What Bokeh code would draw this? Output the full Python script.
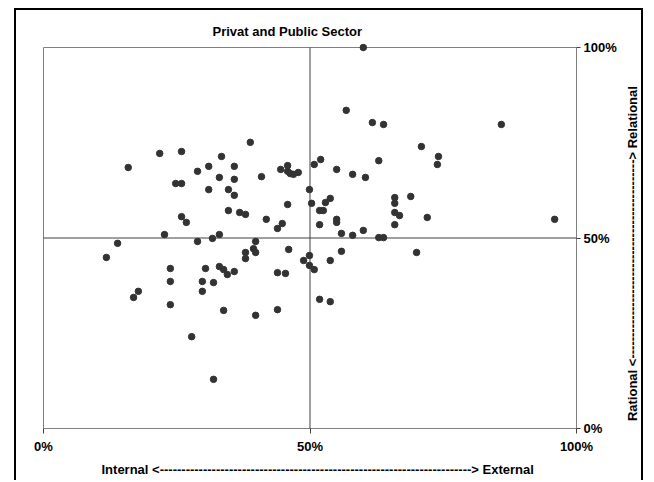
import math
from bokeh.plotting import figure
from bokeh.layouts import row
from bokeh.models import Range1d, FixedTicker, PrintfTickFormatter, ColumnDataSource, Title, Label
from bokeh.embed import file_html
from bokeh.resources import INLINE

# ---- data (percent) ----
x_pct = [60.0, 56.8, 61.7, 63.8, 85.9, 38.8, 70.9, 25.9, 21.8, 74.1,
         33.4, 52.0, 62.9, 73.9, 50.8, 45.8, 31.0, 35.8, 15.9, 55.0,
         44.5, 28.9, 45.8, 46.3, 46.9, 47.8, 58.0, 60.4, 33.0, 35.8,
         40.9, 24.8, 25.9, 31.0, 34.7, 49.9, 35.8, 68.9, 65.9, 53.8,
         65.9, 52.9, 50.3, 45.8, 51.8, 52.5, 34.7, 36.8, 37.9, 65.9,
         66.8, 72.0, 95.9, 25.9, 26.8, 41.8, 55.0, 55.0, 44.8, 51.8,
         65.9, 43.9, 60.0, 55.9, 22.7, 33.0, 58.0, 62.9, 63.8, 31.7,
         28.9, 39.8, 13.9, 46.0, 39.4, 55.9, 37.9, 39.8, 70.0, 49.9,
         11.8, 37.9, 48.8, 53.8, 49.9, 33.0, 23.8, 30.4, 33.8, 50.8,
         35.8, 43.9, 45.4, 34.5, 23.8, 29.8, 31.9, 29.8, 17.8, 16.9,
         51.8, 53.8, 23.8, 43.9, 33.8, 39.8, 27.8, 31.9]
y_pct = [100.0, 83.5, 80.3, 79.8, 79.8, 75.1, 74.0, 72.7, 72.2, 71.4,
         71.4, 70.6, 70.3, 69.3, 69.3, 69.0, 68.8, 68.8, 68.5, 68.0,
         68.0, 67.5, 67.5, 66.9, 66.7, 67.2, 66.7, 65.9, 65.9, 65.4,
         66.1, 64.3, 64.3, 62.7, 62.7, 62.7, 61.2, 60.9, 60.6, 60.4,
         59.1, 59.3, 59.1, 58.8, 57.2, 57.2, 57.2, 56.7, 56.2, 56.7,
         55.9, 55.4, 54.9, 55.6, 54.1, 54.9, 54.9, 54.1, 53.8, 53.5,
         53.5, 52.5, 52.0, 51.2, 50.9, 50.9, 50.7, 50.1, 50.1, 49.9,
         49.1, 49.1, 48.6, 47.0, 47.2, 46.5, 46.2, 46.2, 46.2, 45.4,
         44.9, 44.6, 44.1, 44.1, 42.8, 42.5, 42.0, 42.0, 41.7, 41.7,
         41.2, 40.9, 40.7, 40.4, 38.6, 38.6, 38.3, 36.0, 36.0, 34.4,
         33.9, 33.3, 32.5, 31.2, 31.0, 29.7, 24.1, 12.9]

tick_values = [0, 50, 100]
title_text = "Privat and Public Sector"
x_title = "Internal <" + "-" * 72 + "> External"
y_title = "Rational <" + "-" * 46 + "> Relational"

AX_MIN, AX_MAX, CROSS = 0, 100, 50
FONT = "Liberation Sans"
BORDER = "2px solid black"

# ---------------- main scatter figure ----------------
p = figure(width=604, height=472, output_backend="svg", toolbar_location=None,
           x_range=Range1d(-0.75, 100.75), y_range=Range1d(-1.05, 101.05),
           y_axis_location="right",
           min_border_left=23, min_border_right=40, min_border_top=33, min_border_bottom=50)
p.styles = {"margin-left": "14px", "margin-top": "8px",
            "border-top": BORDER, "border-left": BORDER}
p.outline_line_color = None
p.xgrid.visible = False
p.ygrid.visible = False
p.background_fill_color = "white"
p.border_fill_color = "white"

p.title.text = title_text
p.title.align = "left"
p.title.offset = 173
p.title.standoff = 9
p.title.text_font = FONT
p.title.text_font_style = "bold"
p.title.text_font_size = "13px"
p.title.text_color = "black"

for ax in (p.xaxis[0], p.yaxis[0]):
    ax.ticker = FixedTicker(ticks=tick_values)
    ax.formatter = PrintfTickFormatter(format="%d%%")
    ax.axis_line_color = None
    ax.major_tick_line_color = "#404040"
    ax.minor_tick_line_color = None
    ax.major_tick_in = 4
    ax.major_label_text_font = FONT
    ax.major_label_text_font_style = "bold"
    ax.major_label_text_font_size = "13px"
    ax.major_label_text_color = "black"
p.xaxis.major_tick_out = 1
p.xaxis.major_label_standoff = 5
p.yaxis.major_tick_out = 0
p.yaxis.major_label_standoff = 3

# x-axis title below the axis
p.add_layout(Title(text=x_title, align="left", offset=62, standoff=6,
                   text_font=FONT, text_font_style="bold", text_font_size="13px",
                   text_color="black"), "below")

# plot area border
p.quad(left=[AX_MIN], right=[AX_MAX], bottom=[AX_MIN], top=[AX_MAX],
       fill_color=None, line_color="#808080", line_width=1)
# cross lines at 50%
p.segment(x0=[CROSS, AX_MIN], y0=[AX_MIN, CROSS], x1=[CROSS, AX_MAX], y1=[AX_MAX, CROSS],
          line_color="#404040", line_width=1)

src = ColumnDataSource(data=dict(x=x_pct, y=y_pct))
p.scatter("x", "y", source=src, size=6.5, fill_color="#333333", line_color="#333333")

# ---------------- strip holding the vertical axis title ----------------
p2 = figure(width=25, height=472, output_backend="svg", toolbar_location=None,
            x_range=Range1d(0, 1), y_range=p.y_range,
            x_axis_location=None, y_axis_location=None,
            min_border_left=0, min_border_right=0, min_border_top=0, min_border_bottom=0)
p2.styles = {"margin-top": "8px", "border-top": BORDER, "border-right": BORDER}
p2.outline_line_color = None
p2.xgrid.visible = False
p2.ygrid.visible = False
p2.background_fill_color = "white"
p2.border_fill_color = "white"
p2.add_layout(Label(x=14, y=45.9, x_units="screen", y_units="data", text=y_title,
                    text_align="center", text_baseline="middle", angle=math.pi / 2,
                    text_font=FONT, text_font_style="bold", text_font_size="13px",
                    text_color="black"))

layout = row(p, p2)
open("out.html", "w").write(file_html(layout, INLINE))
